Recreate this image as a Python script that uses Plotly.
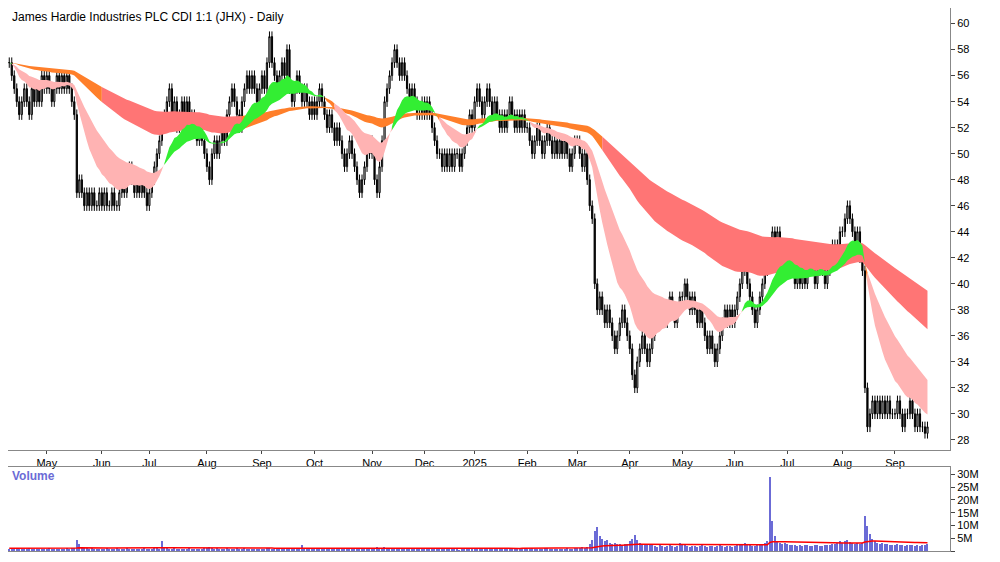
import numpy as np
import plotly.graph_objects as go
from plotly.subplots import make_subplots

month_labels = ["", "May", "Jun", "Jul", "Aug", "Sep", "Oct", "Nov", "Dec", "2025", "Feb", "Mar", "Apr", "May", "Jun", "Jul", "Aug", "Sep"]
closes_by_month = [
    [57, 56, 55, 54, 53, 54, 55, 54, 53, 55, 54, 55, 54, 56, 55],
    [56, 55, 54, 55, 56, 55, 56, 55, 56, 55, 54, 53, 47, 48, 47, 46, 47, 46, 47, 46, 46, 47],
    [46, 47, 46, 46, 47, 46, 46, 47, 48, 47, 48, 49, 48, 47, 48, 47, 48, 47, 46],
    [47, 48, 49, 50, 51, 52, 53, 54, 55, 53, 54, 52, 53, 54, 53, 54, 52, 53, 52, 51, 52, 51, 50],
    [49, 48, 50, 51, 50, 51, 52, 51, 53, 54, 55, 54, 53, 52, 54, 55, 56, 55, 56, 55, 54, 55],
    [56, 55, 57, 59, 57, 56, 55, 56, 57, 56, 58, 55, 54, 55, 56, 55, 54, 55, 54, 53, 54],
    [53, 54, 55, 54, 53, 52, 53, 52, 51, 52, 51, 50, 49, 50, 51, 50, 49, 48, 47, 48, 49, 50, 51],
    [50, 48, 47, 49, 51, 54, 55, 56, 57, 58, 57, 56, 57, 56, 55, 54, 55, 54, 53, 53, 54],
    [53, 54, 53, 52, 51, 50, 50, 49, 50, 49, 50, 49, 50, 50, 49, 50, 51, 52, 53, 52],
    [54, 55, 54, 53, 54, 55, 54, 53, 54, 53, 52, 53, 52, 53, 54, 53, 52, 53, 52, 53, 52],
    [52, 51, 50, 51, 52, 51, 50, 51, 52, 51, 50, 51, 50, 51, 50, 51, 50, 49, 50, 51],
    [51, 50, 49, 50, 48, 46, 45, 40, 38, 39, 38, 37, 38, 37, 36, 35, 36, 37, 38, 37, 36],
    [35, 33, 32, 34, 35, 36, 35, 34, 35, 36, 37, 38, 37, 38, 37, 38, 39, 38, 37, 38, 39],
    [39, 40, 39, 38, 39, 38, 37, 38, 37, 36, 35, 36, 35, 34, 35, 36, 37, 38, 37, 38, 37],
    [38, 39, 40, 41, 42, 40, 39, 38, 37, 38, 39, 40, 41, 42, 43, 44, 43, 44, 43, 42, 43],
    [43, 42, 41, 40, 41, 40, 41, 40, 41, 42, 41, 40, 41, 42, 41, 40, 41, 42, 43, 42, 43, 44],
    [44, 45, 46, 45, 44, 43, 44, 42, 41, 32, 29, 30, 31, 30, 31, 30, 31, 30, 31, 30, 30],
    [30, 31, 30, 29, 30, 30, 31, 30, 29, 30, 29, 29, 28.5, 29],
]
# volume in millions per day (same month layout)
volumes_by_month = [
    [1.2, 1.0, 1.3, 1.1, 0.9, 1.2, 1.0, 1.1, 1.3, 1.0, 1.2, 1.1, 0.9, 1.0, 1.2],
    [1.1, 1.3, 1.0, 1.2, 0.9, 1.1, 1.0, 1.2, 1.4, 1.1, 1.3, 1.5, 4.5, 3.0, 2.0, 1.5, 1.3, 1.2, 1.4, 1.1, 1.0, 1.2],
    [1.1, 1.0, 1.3, 1.2, 1.0, 1.1, 1.4, 1.2, 1.1, 1.0, 1.3, 1.2, 1.1, 1.0, 1.2, 1.1, 1.0, 1.3, 1.2],
    [1.0, 1.2, 1.5, 1.3, 1.1, 4.0, 2.0, 1.5, 1.2, 1.1, 1.3, 1.0, 1.2, 1.1, 1.0, 1.2, 1.3, 1.1, 1.0, 1.2, 1.1, 1.0, 1.3],
    [1.5, 1.8, 1.3, 1.2, 1.4, 1.1, 1.2, 1.0, 1.3, 1.1, 1.2, 1.0, 1.4, 1.1, 1.2, 1.3, 1.0, 1.1, 1.2, 1.0, 1.1, 1.2],
    [1.1, 1.0, 1.3, 1.5, 1.2, 1.1, 1.0, 1.2, 1.1, 1.0, 1.3, 1.2, 1.1, 1.0, 1.2, 1.1, 2.5, 1.2, 1.0, 1.1, 1.2],
    [1.0, 1.1, 1.2, 1.0, 1.1, 1.3, 1.0, 1.2, 1.1, 1.0, 1.2, 1.3, 1.1, 1.0, 1.2, 1.1, 1.3, 1.4, 1.5, 1.2, 1.1, 1.0, 1.2],
    [1.3, 1.5, 1.8, 1.4, 1.2, 2.0, 1.5, 1.3, 1.2, 1.1, 1.0, 1.2, 1.1, 1.0, 1.2, 1.1, 1.0, 1.2, 1.1, 1.0, 1.2],
    [1.1, 1.0, 1.2, 1.1, 1.0, 1.2, 1.3, 1.1, 1.0, 1.2, 1.1, 1.0, 1.5, 1.0, 0.8, 0.9, 1.0, 1.1, 1.0, 1.2],
    [1.2, 1.3, 1.1, 1.0, 1.2, 1.1, 1.0, 1.2, 1.1, 1.0, 1.2, 1.1, 1.0, 1.2, 1.1, 1.0, 1.2, 1.1, 1.0, 1.2, 1.1],
    [1.1, 1.2, 1.3, 1.1, 1.0, 1.2, 1.1, 1.5, 1.3, 1.2, 1.1, 1.0, 1.2, 1.1, 1.0, 1.2, 1.3, 1.1, 1.2, 1.4],
    [1.3, 1.5, 1.8, 1.4, 2.0, 3.0, 4.5, 8.0, 9.5, 6.0, 5.0, 4.0, 4.5, 3.5, 3.0, 3.5, 2.8, 3.0, 2.5, 2.8, 3.0],
    [4.0, 5.0, 6.5, 4.5, 3.5, 3.0, 2.8, 2.5, 3.0, 2.5, 2.2, 2.0, 2.4, 2.2, 2.0, 2.3, 2.5, 2.1, 2.0, 2.2, 3.5],
    [2.5, 3.0, 2.2, 2.0, 2.3, 2.1, 2.0, 2.2, 2.4, 2.1, 2.0, 2.3, 2.1, 2.0, 2.2, 2.4, 2.1, 2.0, 2.2, 2.1, 2.0],
    [2.2, 2.5, 3.0, 2.8, 3.5, 2.6, 2.4, 2.2, 2.3, 2.5, 2.8, 3.0, 3.2, 4.0, 29.0, 12.0, 6.0, 4.0, 3.5, 3.0, 3.2],
    [2.8, 2.5, 2.6, 2.4, 2.3, 2.5, 2.2, 2.4, 2.6, 2.3, 2.2, 2.5, 2.4, 2.3, 2.2, 2.5, 2.4, 2.6, 3.0, 2.8, 3.2, 4.0],
    [3.5, 4.0, 4.5, 3.8, 3.2, 3.0, 3.5, 3.0, 3.5, 14.0, 10.0, 7.0, 5.0, 4.0, 3.5, 3.0, 3.2, 2.8, 3.0, 2.6, 2.5],
    [2.5, 2.8, 2.4, 2.6, 2.3, 2.5, 2.7, 2.4, 2.3, 2.5, 2.2, 2.4, 2.6, 3.0],
]

close = np.array([c for m in closes_by_month for c in m], float)
vol = np.array([v for m in volumes_by_month for v in m], float) * 1e6
n = len(close)
x = np.arange(n)
opn = np.concatenate([[close[0]], close[:-1]])
high = np.maximum(opn, close) + 0.4
low = np.minimum(opn, close) - 0.4

def ema(a, p):
    k = 2 / (p + 1); out = np.empty_like(a); out[0] = a[0]
    for i in range(1, len(a)):
        out[i] = a[i] * k + out[i - 1] * (1 - k)
    return out

sf, ss = ema(close, 15), ema(close, 35)
lf, ls = ema(close, 90), ema(close, 160)

GREEN_L, RED_L, ORANGE = "#3cb371", "#ff7575", "#ff7f2a"
LIME, PINK = "#33ee33", "#ffb3b3"
lcol = []
for i in range(n):
    if lf[i] >= ls[i]: lcol.append(GREEN_L)
    elif (ls[i] - lf[i]) / ls[i] < 0.02: lcol.append(ORANGE)
    else: lcol.append(RED_L)
scol = []
lo_l, hi_l = np.minimum(lf, ls), np.maximum(lf, ls)
for i in range(n):
    if sf[i] >= ss[i]: scol.append(LIME)
    elif sf[i] < lo_l[i]: scol.append(PINK)
    else: scol.append(ORANGE)

fig = make_subplots(rows=2, cols=1, shared_xaxes=True)

def band(a, b, cols):
    i = 0
    while i < n:
        j = i
        while j + 1 < n and cols[j + 1] == cols[i]: j += 1
        e = min(j + 1, n - 1)
        xs = x[i:e + 1]
        fig.add_trace(go.Scatter(x=xs, y=a[i:e + 1], mode="lines", line=dict(width=0), showlegend=False, hoverinfo="skip"), 1, 1)
        fig.add_trace(go.Scatter(x=xs, y=b[i:e + 1], mode="lines", line=dict(width=0), fill="tonexty",
                                 fillcolor=cols[i], showlegend=False, hoverinfo="skip"), 1, 1)
        i = j + 1

band(lf, ls, lcol)
band(sf, ss, scol)

fig.add_trace(go.Candlestick(x=x, open=opn, high=high, low=low, close=close,
    increasing=dict(line=dict(color="black", width=1), fillcolor="white"),
    decreasing=dict(line=dict(color="black", width=1), fillcolor="black"),
    whiskerwidth=0, showlegend=False), 1, 1)

fig.add_trace(go.Bar(x=x, y=vol, marker=dict(color="#6b6bd6", line=dict(width=0)), width=0.5, showlegend=False), 2, 1)
fig.add_trace(go.Scatter(x=x, y=ema(vol, 60), mode="lines", line=dict(color="red", width=1.5), showlegend=False), 2, 1)

starts = np.cumsum([0] + [len(m) for m in closes_by_month[:-1]])
tv = [int(s) for s, l in zip(starts, month_labels) if l]
tt = [l for l in month_labels if l]

fig.update_layout(width=992, height=546, margin=dict(l=0, r=50, t=0, b=0),
                  paper_bgcolor="white", plot_bgcolor="white", font=dict(family="Arial, Liberation Sans", size=11, color="black"),
                  xaxis_rangeslider_visible=False, bargap=0,
                  yaxis=dict(domain=[0.19, 1.0]), yaxis2=dict(domain=[0.005, 0.16]))
fig.update_xaxes(range=[-0.5, n + 8], showgrid=False, zeroline=False, showline=True, linecolor="#888", mirror=True)
fig.update_xaxes(tickvals=tv, ticktext=tt, showticklabels=True, ticks="outside", ticklen=3, row=1, col=1)
fig.update_xaxes(showticklabels=False, row=2, col=1)
fig.update_yaxes(side="right", showgrid=False, zeroline=False, showline=True, linecolor="#888", mirror=True, ticks="outside", ticklen=4)
fig.update_yaxes(range=[27.2, 61.2], dtick=2, row=1, col=1)
fig.update_yaxes(range=[0, 33e6], tickvals=[0, 5e6, 10e6, 15e6, 20e6, 25e6, 30e6],
                 ticktext=["0", "5M", "10M", "15M", "20M", "25M", "30M"], row=2, col=1)
fig.add_annotation(text="James Hardie Industries PLC CDI 1:1 (JHX) - Daily", xref="paper", yref="paper", x=0.002, y=1.0,
                   xanchor="left", yanchor="top", showarrow=False, font=dict(size=12))
fig.add_annotation(text="<b>Volume</b>", xref="paper", yref="y2 domain", x=0.002, y=1.0, xanchor="left", yanchor="top",
                   showarrow=False, font=dict(size=12, color="#6b6bd6"))
fig.write_html("out.html")
